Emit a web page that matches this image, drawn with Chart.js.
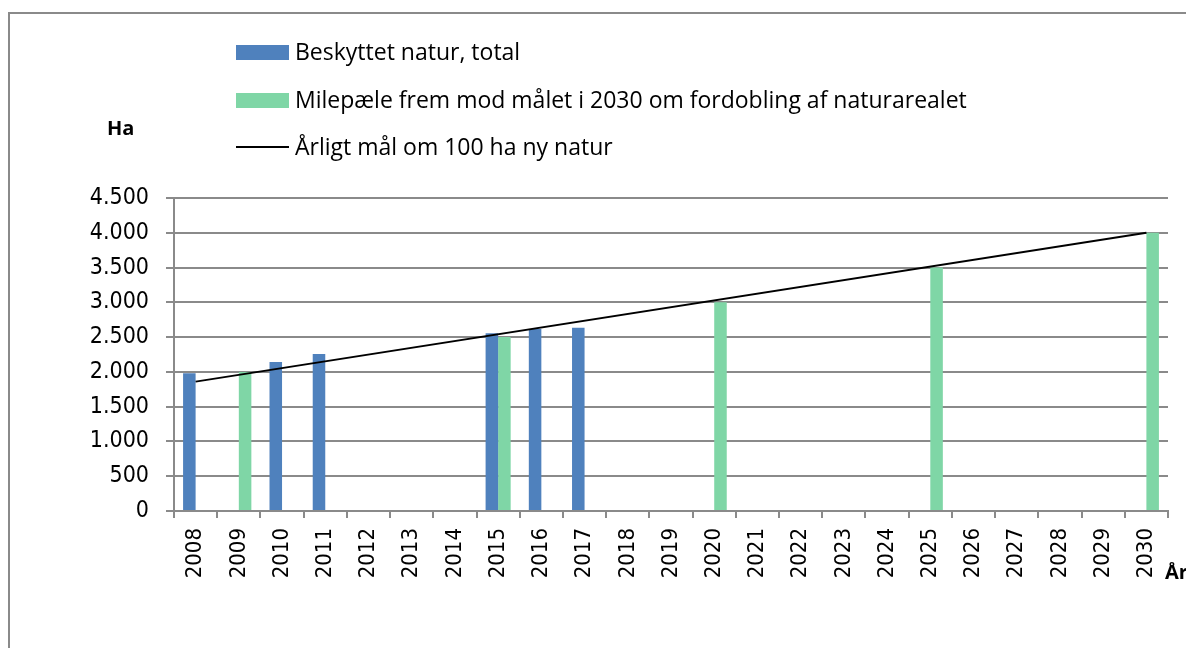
<!DOCTYPE html>
<html lang="da">
<head>
    <meta charset="UTF-8">
    <title>Beskyttet natur</title>
    <script src="https://cdn.jsdelivr.net/npm/chart.js"></script>
    <style>
        body { margin: 0; background: #fff; }
        #wrap { position: relative; width: 1186px; height: 648px; overflow: hidden; }
        #frame { position: absolute; left: 8px; top: 12px; width: 1300px; height: 800px; border: 2px solid #8a8a8a; box-sizing: border-box; }
        #chartBox { position: absolute; left: 0; top: 0; width: 1186px; height: 648px; }
        .lbl { position: absolute; font-family: "Open Sans", sans-serif; color: #000; white-space: nowrap; line-height: 23px; font-size: 23px; }
        .key { position: absolute; left: 236px; width: 53px; }
        .bold { font-weight: bold; font-size: 20px; line-height: 20px; }
    </style>
</head>
<body>
<div id="wrap">
    <div id="frame"></div>
    <div id="chartBox"><canvas id="natur"></canvas></div>

    <!-- legende -->
    <div class="key" style="top:45px;height:15px;background:#4f81bd"></div>
    <div class="lbl" style="left:295px;top:39.5px">Beskyttet natur, total</div>
    <div class="key" style="top:93px;height:15px;background:#7fd6a6"></div>
    <div class="lbl" style="left:295px;top:87.5px">Milepæle frem mod målet i 2030 om fordobling af naturarealet</div>
    <div class="key" style="top:146px;height:2px;background:#000"></div>
    <div class="lbl" style="left:295px;top:134.5px">Årligt mål om 100 ha ny natur</div>

    <div class="lbl bold" style="left:107px;top:118px">Ha</div>
    <div class="lbl bold" style="left:1165px;top:562px">År</div>
</div>

<script>
    const years = ['2008','2009','2010','2011','2012','2013','2014','2015','2016','2017','2018','2019',
                   '2020','2021','2022','2023','2024','2025','2026','2027','2028','2029','2030'];

    // beskyttet natur i alt (ha)
    const beskyttet = [1980, null, 2142, 2257, null, null, null, 2555, 2617, 2635, null, null,
                       null, null, null, null, null, null, null, null, null, null, null];

    // milepæle mod 2030
    const milepaele = [null, 2000, null, null, null, null, null, 2500, null, null, null, null,
                       3000, null, null, null, null, 3500, null, null, null, null, 4000];

    // årligt mål - ret linje fra 2008 til 2030
    const aarligtMaal = [1860, null, null, null, null, null, null, null, null, null, null, null,
                         null, null, null, null, null, null, null, null, null, null, 4000];

    const yTicks = [0, 500, 1000, 1500, 2000, 2500, 3000, 3500, 4000, 4500];

    const gridGray = '#8a8a8a';
    const tickFont = '"DejaVu Sans Condensed", "DejaVu Sans", sans-serif';

    function punktum(v) {
        return String(v).replace(/\B(?=(\d{3})+(?!\d))/g, '.');
    }

    const ctx = document.getElementById('natur').getContext('2d');
    new Chart(ctx, {
        type: 'bar',
        data: {
            labels: years,
            datasets: [
                {
                    type: 'line',
                    label: 'Årligt mål om 100 ha ny natur',
                    data: aarligtMaal,
                    borderColor: '#000',
                    borderWidth: 2,
                    pointRadius: 0,
                    spanGaps: true,
                    order: 0
                },
                {
                    label: 'Beskyttet natur, total',
                    data: beskyttet,
                    backgroundColor: '#4f81bd',
                    order: 1
                },
                {
                    label: 'Milepæle frem mod målet i 2030 om fordobling af naturarealet',
                    data: milepaele,
                    backgroundColor: '#7fd6a6',
                    order: 1
                }
            ]
        },
        options: {
            responsive: true,
            maintainAspectRatio: false,
            animation: false,
            categoryPercentage: 0.58,
            barPercentage: 1,
            layout: { padding: { left: 0, right: 18, top: 198, bottom: 0 } },
            plugins: {
                legend: { display: false },
                tooltip: { enabled: false }
            },
            scales: {
                x: {
                    grid: {
                        drawOnChartArea: false,
                        drawTicks: true,
                        tickLength: 7,
                        color: gridGray,
                        lineWidth: 2
                    },
                    border: { display: true, color: gridGray, width: 2 },
                    ticks: {
                        color: '#000',
                        font: { family: tickFont, size: 22 },
                        minRotation: 90,
                        maxRotation: 90,
                        padding: 10,
                        autoSkip: false
                    },
                    afterFit(scale) { scale.height = 137; }
                },
                y: {
                    min: 0,
                    max: 4500,
                    afterBuildTicks(scale) { scale.ticks = yTicks.map(v => ({ value: v })); },
                    grid: {
                        color: gridGray,
                        lineWidth: 2,
                        tickLength: 8
                    },
                    border: { display: true, color: gridGray, width: 2 },
                    ticks: {
                        color: '#000',
                        font: { family: tickFont, size: 23 },
                        padding: 17,
                        callback: v => punktum(v)
                    },
                    afterFit(scale) { scale.width = 174; }
                }
            }
        }
    });
</script>
</body>
</html>
